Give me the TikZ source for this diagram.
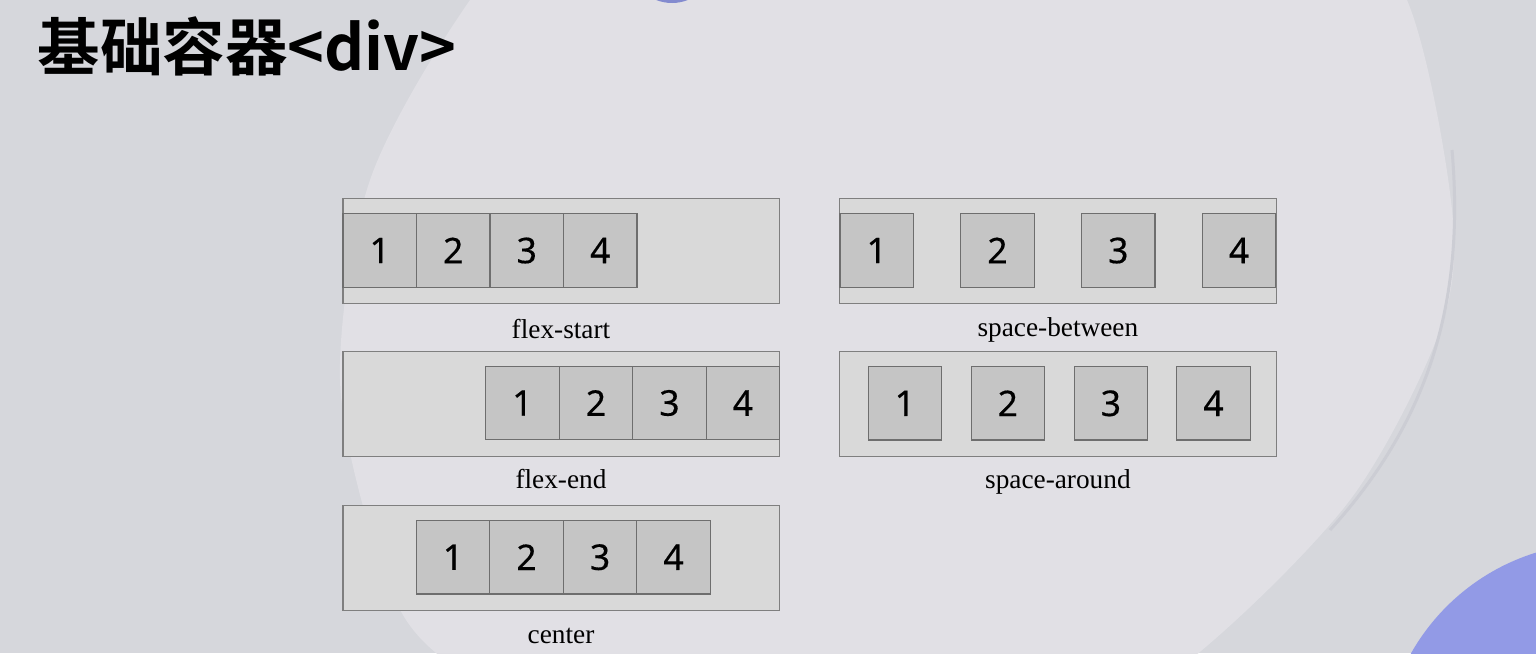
\documentclass[tikz,border=0pt]{standalone}
\usepackage{fontspec}
\setmainfont{Liberation Serif}
\newfontfamily\cjk{Noto Sans CJK SC}[BoldFont={* Bold}]
\newfontfamily\numfont{Noto Sans}[FakeBold=0.4]
\definecolor{bgout}{HTML}{D6D7DC}
\definecolor{bgin}{HTML}{E1E0E5}
\definecolor{rim}{HTML}{CCCDD4}
\definecolor{blob}{HTML}{929AE6}
\definecolor{boxfill}{HTML}{D9D9D9}
\definecolor{boxline}{HTML}{7F7F7F}
\definecolor{itemfill}{HTML}{C5C5C5}
\definecolor{itemline}{HTML}{6E6E6E}

\begin{document}
\begin{tikzpicture}[x=1pt,y=-1pt,
        box/.style={draw=boxline,fill=boxfill,line width=1.3pt,minimum width=436.5pt,minimum height=105pt,inner sep=0pt},
        item/.style={draw=itemline,fill=itemfill,line width=1.2pt,minimum size=73.5pt,inner sep=0pt,text=black,font=\numfont\fontsize{35.5}{40}\selectfont},
        caption/.style={anchor=base,font=\fontsize{27.3}{30}\selectfont}
    ]
        \useasboundingbox (0,0) rectangle (1536,653);
        \clip (0,0) rectangle (1536,653);
        \fill[bgout] (0,0) rectangle (1536,653);
        \fill[bgin] plot[smooth cycle] coordinates {(1300,-150) (600,-150) (470,0) (370,180) (340,380) (380,560) (445,660) (700,800) (1000,780) (1190,660) (1350,500) (1440,330) (1452,210) (1407,0)};
        \draw[rim,line width=3pt] (1452,150) .. controls (1465,300) and (1430,420) .. (1330,530);
        \fill[blob] (1600,760) circle[radius=217];
        \fill[blob!90!black] (672,-40) circle[radius=43];

        \node[anchor=base west,font=\cjk\bfseries\fontsize{62.5}{66}\selectfont] (title) at (34,70) {基础容器<div>};

        \node[box] (c1) at (561.25,250.8) {};
        \node[box] (c2) at (561.25,403.8) {};
        \node[box] (c3) at (561.25,557.8) {};
        \node[box] (c4) at (1057.9,250.8) {};
        \node[box] (c5) at (1057.9,403.8) {};

        \node[item] (s1) at (379.75,250.5) {1};
        \node[item] (s2) at (453.25,250.5) {2};
        \node[item] (s3) at (526.75,250.5) {3};
        \node[item] (s4) at (600.25,250.5) {4};

        \node[item] (e1) at (522.45,403) {1};
        \node[item] (e2) at (595.95,403) {2};
        \node[item] (e3) at (669.45,403) {3};
        \node[item] (e4) at (742.95,403) {4};

        \node[item] (m1) at (453.05,557.2) {1};
        \node[item] (m2) at (526.55,557.2) {2};
        \node[item] (m3) at (600.05,557.2) {3};
        \node[item] (m4) at (673.55,557.2) {4};

        \node[item] (b1) at (876.75,250.5) {1};
        \node[item] (b2) at (997.5,250.5) {2};
        \node[item] (b3) at (1118.3,250.5) {3};
        \node[item] (b4) at (1239,250.5) {4};

        \node[item] (a1) at (904.85,403.3) {1};
        \node[item] (a2) at (1007.85,403.3) {2};
        \node[item] (a3) at (1110.85,403.3) {3};
        \node[item] (a4) at (1213.5,403.3) {4};

        \node[caption] (l1) at (561,338) {flex-start};
        \node[caption] (l2) at (561,488.3) {flex-end};
        \node[caption] (l3) at (561,643.3) {center};
        \node[caption] (l4) at (1057.9,336.5) {space-between};
        \node[caption] (l5) at (1057.9,488) {space-around};
    \end{tikzpicture}
\end{document}
